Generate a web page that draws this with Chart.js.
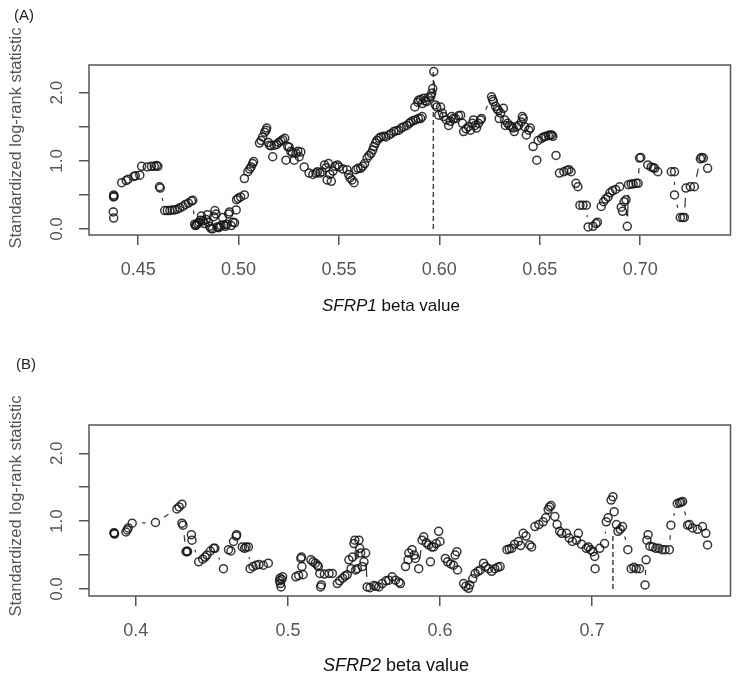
<!DOCTYPE html>
<html>
<head>
<meta charset="utf-8">
<script src="https://cdn.jsdelivr.net/npm/chart.js@4.4.1/dist/chart.umd.min.js"></script>
<style>
  html, body { margin: 0; padding: 0; background: #fff; }
  .panel { position: absolute; left: 0; width: 736px; height: 337px; }
</style>
</head>
<body>
<div class="panel" style="top:0"><canvas id="chartA" width="736" height="337"></canvas></div>
<div class="panel" style="top:337px"><canvas id="chartB" width="736" height="337"></canvas></div>
<script>
// (A) SFRP1 : beta value vs standardized log-rank statistic
const sfrp1Beta = [
  0.4376, 0.4378, 0.4377, 0.4378, 0.4380, 0.4418, 0.4440, 0.4450, 0.4478, 0.4486,
  0.4508, 0.4517, 0.4545, 0.4566, 0.4580, 0.4591, 0.4598, 0.4606, 0.4610, 0.4632,
  0.4645, 0.4658, 0.4670, 0.4682, 0.4695, 0.4707, 0.4723, 0.4735, 0.4750, 0.4765,
  0.4772, 0.4781, 0.4785, 0.4790, 0.4796, 0.4803, 0.4810, 0.4815, 0.4822, 0.4830,
  0.4838, 0.4845, 0.4850, 0.4856, 0.4862, 0.4870, 0.4876, 0.4882, 0.4888, 0.4893,
  0.4900, 0.4905, 0.4912, 0.4920, 0.4927, 0.4934, 0.4942, 0.4950, 0.4955, 0.4963,
  0.4972, 0.4980, 0.4988, 0.4990, 0.4998, 0.5010, 0.5029, 0.5029, 0.5046, 0.5055,
  0.5062, 0.5070, 0.5075, 0.5104, 0.5112, 0.5120, 0.5130, 0.5137, 0.5140, 0.5148,
  0.5154, 0.5162, 0.5170, 0.5178, 0.5190, 0.5200, 0.5211, 0.5220, 0.5230, 0.5236,
  0.5245, 0.5252, 0.5260, 0.5268, 0.5277, 0.5286, 0.5295, 0.5302, 0.5310, 0.5327,
  0.5351, 0.5370, 0.5385, 0.5393, 0.5405, 0.5416, 0.5428, 0.5436, 0.5441, 0.5448,
  0.5455, 0.5462, 0.5470, 0.5480, 0.5493, 0.5500, 0.5520, 0.5540, 0.5548, 0.5555,
  0.5565, 0.5575, 0.5585, 0.5595, 0.5608, 0.5618, 0.5628, 0.5640, 0.5650, 0.5660,
  0.5668, 0.5674, 0.5682, 0.5689, 0.5700, 0.5709, 0.5722, 0.5734, 0.5749, 0.5760,
  0.5773, 0.5785, 0.5798, 0.5810, 0.5823, 0.5838, 0.5850, 0.5858, 0.5870, 0.5878,
  0.5882, 0.5892, 0.5895, 0.5897, 0.5907, 0.5907, 0.5914, 0.5915, 0.5922, 0.5930,
  0.5937, 0.5945, 0.5957, 0.5962, 0.5967, 0.5972, 0.5980, 0.5987, 0.5997, 0.6006,
  0.6015, 0.6021, 0.6035, 0.6046, 0.6055, 0.6061, 0.6070, 0.6081, 0.6095, 0.6106,
  0.6115, 0.6121, 0.6133, 0.6145, 0.6155, 0.6165, 0.6170, 0.6178, 0.6185, 0.6195,
  0.6205, 0.6210, 0.6260, 0.6265, 0.6269, 0.6280, 0.6288, 0.6294, 0.6298, 0.6305,
  0.6319, 0.6325, 0.6329, 0.6340, 0.6350, 0.6359, 0.6367, 0.6373, 0.6385, 0.6395,
  0.6408, 0.6413, 0.6418, 0.6425, 0.6433, 0.6445, 0.6453, 0.6467, 0.6485, 0.6492,
  0.6509, 0.6520, 0.6530, 0.6543, 0.6552, 0.6559, 0.6565, 0.6581, 0.6598, 0.6620,
  0.6635, 0.6645, 0.6656, 0.6680, 0.6690, 0.6700, 0.6715, 0.6732, 0.6741, 0.6765,
  0.6780, 0.6787, 0.6806, 0.6818, 0.6828, 0.6840, 0.6850, 0.6862, 0.6878, 0.6898,
  0.6906, 0.6912, 0.6920, 0.6930, 0.6936, 0.6942, 0.6955, 0.6965, 0.6980, 0.6990,
  0.6997, 0.7003, 0.7038, 0.7055, 0.7065, 0.7072, 0.7088, 0.7155, 0.7171, 0.7171,
  0.7200, 0.7212, 0.7220, 0.7228, 0.7250, 0.7270, 0.7300, 0.7306, 0.7315, 0.7336
];
const sfrp1Stat = [
  0.25, 0.16, 0.47, 0.50, 0.48, 0.68, 0.71, 0.73, 0.77, 0.78,
  0.79, 0.92, 0.91, 0.92, 0.92, 0.93, 0.92, 0.62, 0.60, 0.27,
  0.27, 0.27, 0.28, 0.28, 0.29, 0.31, 0.33, 0.36, 0.38, 0.41,
  0.42, 0.07, 0.05, 0.06, 0.08, 0.10, 0.13, 0.19, 0.12, 0.08,
  0.14, 0.21, 0.10, 0.04, 0.01, 0.00, 0.18, 0.27, 0.22, 0.03,
  0.02, 0.03, 0.05, 0.17, 0.06, 0.04, 0.07, 0.22, 0.25, 0.05,
  0.10, 0.09, 0.28, 0.43, 0.45, 0.47, 0.50, 0.74, 0.84, 0.88,
  0.91, 0.96, 0.99, 1.26, 1.30, 1.35, 1.42, 1.45, 1.48, 1.27,
  1.23, 1.22, 1.06, 1.23, 1.24, 1.27, 1.29, 1.31, 1.33, 1.01,
  1.21, 1.20, 1.14, 1.12, 1.01, 1.11, 1.14, 1.06, 1.13, 0.91,
  0.82, 0.80, 0.82, 0.84, 0.82, 0.84, 0.94, 0.90, 0.72, 0.96,
  0.80, 0.70, 0.85, 0.92, 0.94, 0.91, 0.88, 0.87, 0.80, 0.75,
  0.72, 0.68, 0.87, 0.89, 0.89, 0.92, 0.96, 1.04, 1.08, 1.11,
  1.16, 1.21, 1.26, 1.30, 1.33, 1.35, 1.36, 1.35, 1.38, 1.40,
  1.43, 1.44, 1.45, 1.48, 1.50, 1.52, 1.55, 1.57, 1.59, 1.79,
  1.60, 1.86, 1.62, 1.89, 1.62, 1.90, 1.65, 1.84, 1.92, 1.88,
  1.87, 1.93, 1.94, 1.99, 2.06, 2.31, 1.82, 1.79, 1.67, 1.79,
  1.70, 1.65, 1.60, 1.52, 1.58, 1.65, 1.62, 1.62, 1.66, 1.67,
  1.55, 1.43, 1.47, 1.50, 1.45, 1.55, 1.60, 1.52, 1.48, 1.55,
  1.60, 1.62, 1.94, 1.90, 1.87, 1.80, 1.76, 1.74, 1.62, 1.70,
  1.77, 1.60, 1.52, 1.55, 1.52, 1.50, 1.48, 1.43, 1.50, 1.52,
  1.57, 1.65, 1.62, 1.50, 1.38, 1.45, 1.48, 1.21, 1.01, 1.30,
  1.33, 1.35, 1.36, 1.37, 1.38, 1.38, 1.36, 1.08, 0.82, 0.84,
  0.86, 0.87, 0.84, 0.67, 0.62, 0.35, 0.35, 0.35, 0.03, 0.04,
  0.08, 0.10, 0.33, 0.40, 0.44, 0.47, 0.53, 0.56, 0.58, 0.62,
  0.32, 0.26, 0.40, 0.43, 0.04, 0.65, 0.66, 0.66, 0.67, 0.67,
  1.04, 1.05, 0.94, 0.91, 0.90, 0.89, 0.84, 0.84, 0.84, 0.50,
  0.17, 0.17, 0.17, 0.60, 0.62, 0.62, 1.03, 1.05, 1.04, 0.89
];

// (B) SFRP2
const sfrp2Beta = [
  0.3856, 0.3858, 0.3860, 0.3935, 0.3943, 0.3950, 0.3976, 0.4129, 0.4270, 0.4285,
  0.4303, 0.4303, 0.4310, 0.4330, 0.4336, 0.4340, 0.4365, 0.4369, 0.4413, 0.4440,
  0.4455, 0.4467, 0.4490, 0.4511, 0.4520, 0.4576, 0.4609, 0.4625, 0.4642, 0.4660,
  0.4663, 0.4700, 0.4715, 0.4725, 0.4740, 0.4751, 0.4770, 0.4790, 0.4810, 0.4838,
  0.4871, 0.4945, 0.4948, 0.4950, 0.4955, 0.4960, 0.4965, 0.5052, 0.5070, 0.5085,
  0.5089, 0.5092, 0.5100, 0.5151, 0.5165, 0.5180, 0.5194, 0.5200, 0.5210, 0.5215,
  0.5220, 0.5240, 0.5270, 0.5292, 0.5325, 0.5340, 0.5360, 0.5375, 0.5390, 0.5401,
  0.5415, 0.5425, 0.5434, 0.5440, 0.5445, 0.5456, 0.5467, 0.5472, 0.5478, 0.5489,
  0.5500, 0.5511, 0.5521, 0.5540, 0.5565, 0.5580, 0.5598, 0.5620, 0.5645, 0.5663,
  0.5685, 0.5707, 0.5730, 0.5740, 0.5773, 0.5790, 0.5795, 0.5816, 0.5830, 0.5838,
  0.5860, 0.5882, 0.5893, 0.5910, 0.5925, 0.5937, 0.5945, 0.5958, 0.5975, 0.5991,
  0.6000, 0.6035, 0.6050, 0.6070, 0.6089, 0.6100, 0.6111, 0.6115, 0.6155, 0.6170,
  0.6187, 0.6195, 0.6215, 0.6231, 0.6250, 0.6265, 0.6286, 0.6300, 0.6320, 0.6340,
  0.6360, 0.6380, 0.6395, 0.6440, 0.6455, 0.6471, 0.6490, 0.6515, 0.6530, 0.6547,
  0.6565, 0.6590, 0.6602, 0.6624, 0.6650, 0.6678, 0.6695, 0.6711, 0.6720, 0.6730,
  0.6755, 0.6770, 0.6787, 0.6800, 0.6831, 0.6850, 0.6870, 0.6897, 0.6910, 0.6930,
  0.6962, 0.6975, 0.6990, 0.7005, 0.7017, 0.7020, 0.7050, 0.7082, 0.7093, 0.7105,
  0.7125, 0.7137, 0.7145, 0.7160, 0.7170, 0.7185, 0.7200, 0.7235, 0.7257, 0.7275,
  0.7290, 0.7312, 0.7348, 0.7355, 0.7360, 0.7368, 0.7380, 0.7400, 0.7420, 0.7440,
  0.7460, 0.7480, 0.7508, 0.7518, 0.7560, 0.7575, 0.7584, 0.7595, 0.7628, 0.7640,
  0.7660, 0.7693, 0.7726, 0.7748, 0.7759
];
const sfrp2Stat = [
  0.83, 0.82, 0.81, 0.84, 0.87, 0.90, 0.97, 0.98, 1.18, 1.21,
  1.25, 0.97, 0.94, 0.55, 0.56, 0.55, 0.80, 0.72, 0.40, 0.44,
  0.47, 0.50, 0.56, 0.60, 0.60, 0.30, 0.58, 0.56, 0.70, 0.78,
  0.80, 0.62, 0.60, 0.62, 0.62, 0.30, 0.33, 0.35, 0.36, 0.35,
  0.38, 0.12, 0.16, 0.08, 0.03, 0.14, 0.18, 0.18, 0.20, 0.45,
  0.47, 0.33, 0.21, 0.43, 0.40, 0.38, 0.35, 0.33, 0.23, 0.03,
  0.06, 0.22, 0.23, 0.23, 0.08, 0.12, 0.16, 0.19, 0.21, 0.43,
  0.30, 0.47, 0.67, 0.72, 0.28, 0.30, 0.72, 0.60, 0.53, 0.33,
  0.40, 0.53, 0.03, 0.02, 0.05, 0.04, 0.03, 0.08, 0.12, 0.13,
  0.18, 0.13, 0.10, 0.08, 0.33, 0.43, 0.53, 0.58, 0.50, 0.45,
  0.30, 0.72, 0.77, 0.68, 0.65, 0.40, 0.62, 0.62, 0.67, 0.85,
  0.70, 0.45, 0.40, 0.37, 0.35, 0.50, 0.55, 0.28, 0.08, 0.04,
  0.01, 0.06, 0.15, 0.23, 0.26, 0.28, 0.38, 0.33, 0.30, 0.26,
  0.30, 0.32, 0.33, 0.58, 0.59, 0.60, 0.66, 0.70, 0.64, 0.82,
  0.78, 0.65, 0.62, 0.92, 0.95, 0.99, 1.05, 1.17, 1.21, 1.23,
  1.07, 0.95, 0.85, 0.82, 0.82, 0.75, 0.70, 0.72, 0.82, 0.66,
  0.60, 0.62, 0.58, 0.55, 0.48, 0.30, 0.60, 0.67, 0.99, 1.05,
  1.31, 1.36, 1.14, 0.95, 0.85, 0.88, 0.92, 0.58, 0.30, 0.32,
  0.30, 0.30, 0.06, 0.43, 0.72, 0.80, 0.63, 0.62, 0.60, 0.60,
  0.58, 0.58, 0.58, 0.94, 1.26, 1.27, 1.28, 1.29, 0.94, 0.95,
  0.90, 0.88, 0.92, 0.82, 0.65
];

// 軸の目盛り
const sfrp1XTicks = [0.45, 0.50, 0.55, 0.60, 0.65, 0.70];
const sfrp1XLabels = ['0.45', '0.50', '0.55', '0.60', '0.65', '0.70'];
const sfrp2XTicks = [0.4, 0.5, 0.6, 0.7];
const sfrp2XLabels = ['0.4', '0.5', '0.6', '0.7'];
const yTicks = [0, 0.5, 1.0, 1.5, 2.0];
const yLabels = ['0.0', '', '1.0', '', '2.0'];

// 最大統計量のカットポイント（破線）
const sfrp1Cut = [0.597, 0.597];
const sfrp1CutStat = [0, 2.31];
const sfrp2Cut = [0.7137, 0.7137];
const sfrp2CutStat = [0, 0.82];

const FONT = '"Liberation Sans", Arial, Helvetica, sans-serif';

// R の type="b" のように点の周りで線を切る
function gapDash(ctx) {
  const g = 10;
  const len = Math.hypot(ctx.p1.x - ctx.p0.x, ctx.p1.y - ctx.p0.y);
  if (len <= 2 * g + 1) return [0, 10000];
  return [0, g, len - 2 * g, g];
}

// 枠・回転した目盛りラベル・軸タイトル・パネル記号
const panelDecor = {
  id: 'panelDecor',
  afterDraw(chart, args, opts) {
    const { ctx, chartArea: a, scales } = chart;
    ctx.save();
    ctx.strokeStyle = '#555';
    ctx.lineWidth = 1.5;
    ctx.strokeRect(a.left, a.top, a.right - a.left, a.bottom - a.top);

    ctx.fillStyle = '#555';
    ctx.font = '17px ' + FONT;
    ctx.textAlign = 'center';
    ctx.textBaseline = 'middle';
    yTicks.forEach((v, i) => {
      if (!yLabels[i]) return;
      const py = scales.y.getPixelForValue(v);
      ctx.save();
      ctx.translate(57, py);
      ctx.rotate(-Math.PI / 2);
      ctx.fillText(yLabels[i], 0, 0);
      ctx.restore();
    });

    // y軸タイトル
    ctx.font = '16.5px ' + FONT;
    ctx.save();
    ctx.translate(16, opts.yTitleY);
    ctx.rotate(-Math.PI / 2);
    ctx.fillText('Standardized log-rank statistic', 0, 0);
    ctx.restore();

    // x軸タイトル（遺伝子名はイタリック）
    ctx.fillStyle = '#111';
    ctx.textAlign = 'left';
    ctx.textBaseline = 'alphabetic';
    const italic = 'italic ' + opts.xTitleSize + 'px ' + FONT;
    const normal = opts.xTitleSize + 'px ' + FONT;
    ctx.font = italic;
    const w1 = ctx.measureText(opts.gene).width;
    ctx.font = normal;
    const w2 = ctx.measureText(' beta value').width;
    let x0 = opts.xTitleX - (w1 + w2) / 2;
    ctx.font = italic;
    ctx.fillText(opts.gene, x0, opts.xTitleY);
    ctx.font = normal;
    ctx.fillText(' beta value', x0 + w1, opts.xTitleY);

    // パネル記号
    ctx.fillStyle = '#222';
    ctx.font = '15px ' + FONT;
    ctx.textBaseline = 'middle';
    ctx.fillText(opts.tag, opts.tagX, opts.tagY);
    ctx.restore();
  }
};

function makePanel(id, cfg) {
  const points = cfg.beta.map((b, i) => ({ x: b, y: cfg.stat[i] }));
  const cutLine = cfg.cutX.map((c, i) => ({ x: c, y: cfg.cutY[i] }));

  return new Chart(document.getElementById(id), {
    type: 'scatter',
    data: {
      datasets: [
        {
          data: points,
          showLine: true,
          borderColor: '#333',
          borderWidth: 1.2,
          pointRadius: 4,
          pointBorderWidth: 1.5,
          pointBorderColor: 'rgba(20, 20, 20, 0.85)',
          pointBackgroundColor: 'rgba(0, 0, 0, 0)',
          segment: { borderDash: gapDash }
        },
        {
          data: cutLine,
          showLine: true,
          borderColor: '#444',
          borderWidth: 1.5,
          borderDash: [5, 3],
          pointRadius: 0
        }
      ]
    },
    options: {
      responsive: false,
      animation: false,
      layout: { padding: { top: cfg.top, right: 3, left: 0, bottom: 0 } },
      plugins: {
        legend: { display: false },
        tooltip: { enabled: false },
        panelDecor: cfg.decor
      },
      scales: {
        x: {
          type: 'linear',
          min: cfg.xMin,
          max: cfg.xMax,
          afterBuildTicks: s => { s.ticks = cfg.xTicks.map(v => ({ value: v })); },
          afterFit: s => { s.height = cfg.xAxisHeight; },
          border: { display: false },
          grid: { drawOnChartArea: false, drawTicks: true, tickLength: 10, color: '#555', lineWidth: 1.5 },
          ticks: {
            padding: 14,
            color: '#555',
            maxRotation: 0,
            autoSkip: false,
            font: { family: FONT, size: 18 },
            callback: (v, i) => cfg.xLabels[i]
          }
        },
        y: {
          type: 'linear',
          min: cfg.yMin,
          max: cfg.yMax,
          afterBuildTicks: s => { s.ticks = yTicks.map(v => ({ value: v })); },
          afterFit: s => { s.width = 89; },
          border: { display: false },
          grid: { drawOnChartArea: false, drawTicks: true, tickLength: 10, color: '#555', lineWidth: 1.5 },
          ticks: { display: false }
        }
      }
    },
    plugins: [panelDecor]
  });
}

makePanel('chartA', {
  beta: sfrp1Beta, stat: sfrp1Stat, cutX: sfrp1Cut, cutY: sfrp1CutStat,
  xTicks: sfrp1XTicks, xLabels: sfrp1XLabels,
  xMin: 0.4255, xMax: 0.745, yMin: -0.088, yMax: 2.406,
  top: 65, xAxisHeight: 102,
  decor: { tag: '(A)', tagX: 14, tagY: 16, gene: 'SFRP1', xTitleX: 391, xTitleY: 311, xTitleSize: 17, yTitleY: 138 }
});

makePanel('chartB', {
  beta: sfrp2Beta, stat: sfrp2Stat, cutX: sfrp2Cut, cutY: sfrp2CutStat,
  xTicks: sfrp2XTicks, xLabels: sfrp2XLabels,
  xMin: 0.3692, xMax: 0.791, yMin: -0.103, yMax: 2.417,
  top: 88, xAxisHeight: 78,
  decor: { tag: '(B)', tagX: 16, tagY: 28, gene: 'SFRP2', xTitleX: 396, xTitleY: 334, xTitleSize: 18, yTitleY: 169 }
});
</script>
</body>
</html>
